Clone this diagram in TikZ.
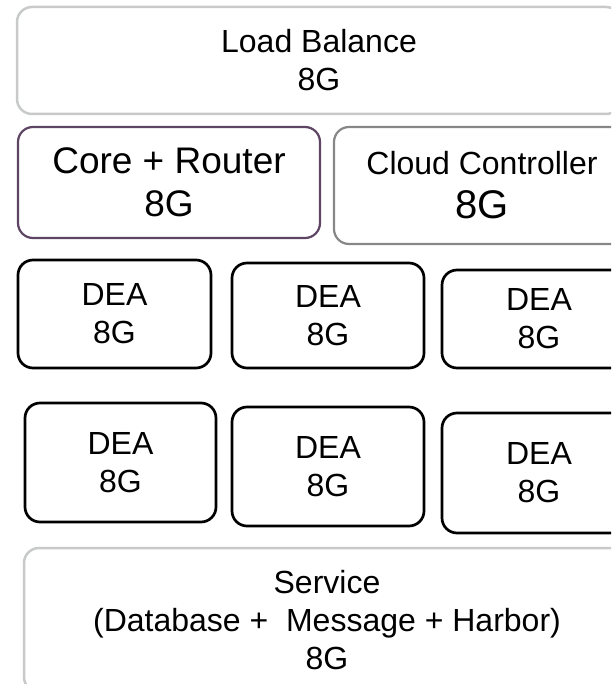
\documentclass[tikz,border=0pt]{standalone}
\usepackage{fontspec}
\setmainfont{Liberation Sans}
\definecolor{color_box_light}{HTML}{C8CACA}
\definecolor{color_box_router}{HTML}{5E4563}
\definecolor{color_box_cloud}{HTML}{878787}
\definecolor{color_box_dea}{HTML}{000000}
\def\boxcornerradius{15pt}
\def\boxlinewidth{2.5pt}
\def\boxtextsize{\fontsize{32}{38}\selectfont}
\def\boxbigsize{\fontsize{37}{43}\selectfont}
\def\boxhugesize{\fontsize{40}{44}\selectfont}
\tikzset{
    box/.style={draw, rounded corners=\boxcornerradius, line width=\boxlinewidth,
        text=black, align=center, inner sep=0pt, font=\boxtextsize},
}

\begin{document}
\begin{tikzpicture}[x=1pt,y=-1pt]
        \useasboundingbox (0,0) rectangle (611,684);
        \clip (0,0) rectangle (611,684);
        % top layer
        \node[box, draw=color_box_light, minimum width=604, minimum height=107] (loadbalance) at (319,60.5) {Load Balance\\8G};
        \node[box, draw=color_box_router, line width=2.2pt, minimum width=302, minimum height=111, font=\boxbigsize] (corerouter) at (169,182.5) {Core + Router\\8G};
        \node[box, draw=color_box_cloud, line width=2.2pt, minimum width=296, minimum height=117] (cloudcontroller) at (482,185.5) {Cloud Controller\\[6pt]{\boxhugesize 8G}};
        % the DEA boxes
        \foreach \name/\x/\y/\w/\h in {deaa/114.5/314/193/108, deab/328/315.5/192/105, deac/539/319/194/98,
                                       dead/120.5/462.5/191/119, deae/328/466.5/192/119, deaf/539/473/194/120}
            \node[box, draw=color_box_dea, line width=2.7pt, minimum width=\w, minimum height=\h] (\name) at (\x,\y) {DEA\\8G};
        % bottom layer
        \node[box, draw=color_box_light, minimum width=606, minimum height=144] (service) at (327,620) {Service\\(Database +\ \ Message + Harbor)\\8G};
    \end{tikzpicture}
\end{document}
